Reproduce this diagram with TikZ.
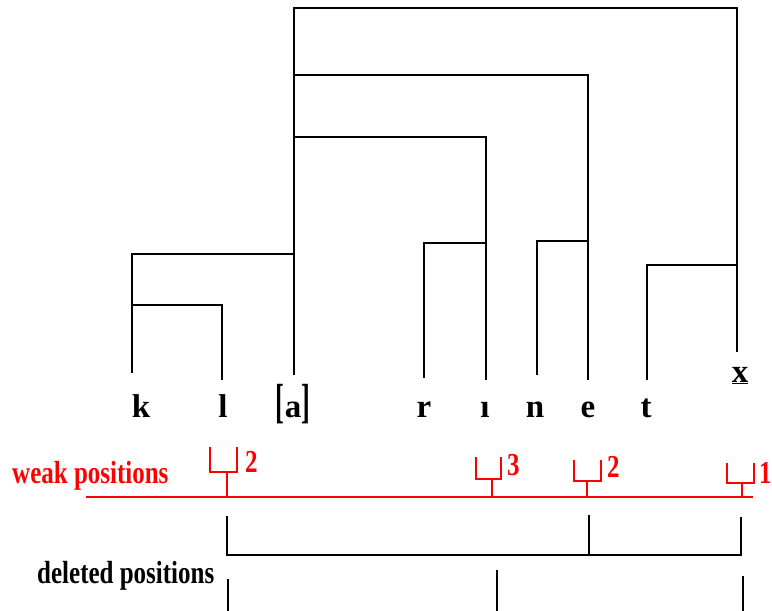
\documentclass[tikz,border=0pt]{standalone}
\usepackage{fontspec}
\setmainfont{Liberation Serif}
\usepackage{graphicx}

\newcommand{\stretchy}[1]{\scalebox{1}[1.28]{#1}}

\tikzstyle{seg} = [inner sep=0pt, anchor=base, font=\bfseries\fontsize{33}{33}\selectfont]
\tikzstyle{row-lbl} = [inner sep=0pt, anchor=base west, font=\bfseries\fontsize{25}{25}\selectfont]
\tikzstyle{num} = [inner sep=0pt, anchor=base west, text=red, font=\bfseries\fontsize{25}{25}\selectfont]
\tikzstyle{branch} = [line width=2.2pt, black]
\tikzstyle{weak} = [line width=2.4pt, red]
\tikzstyle{del} = [line width=2.2pt, black]

\begin{document}
\begin{tikzpicture}[x=1pt, y=-1pt]
  \useasboundingbox (0,0) rectangle (772,611);

  % segments
  \node (k) [seg] at (141,417) {k};
  \node (l) [seg] at (223,417) {l};
  \node (a) [seg] at (293,417) {\scalebox{0.8}[1.45]{[}a\scalebox{0.8}[1.45]{]}};
  \node (r) [seg] at (424,417) {r};
  \node (i) [seg] at (485,417) {ı};
  \node (n) [seg] at (535,417) {n};
  \node (e) [seg] at (588,417) {e};
  \node (t) [seg] at (646,417) {t};
  \node (x) [seg] at (740,382) {\underline{x}};

  % feet of the branches
  \coordinate (fk) at (132,373);
  \coordinate (fl) at (222,380);
  \coordinate (fa) at (294,375);
  \coordinate (fr) at (424,378);
  \coordinate (fi) at (486,380);
  \coordinate (fn) at (537,375);
  \coordinate (fe) at (588,380);
  \coordinate (ft) at (647,380);
  \coordinate (fx) at (737,352);

  % joints
  \coordinate (top) at (294,8);
  \coordinate (j-e) at (294,75);
  \coordinate (j-i) at (294,137);
  \coordinate (j-k) at (294,254);
  \coordinate (j-l) at (132,305);
  \coordinate (j-r) at (486,243);
  \coordinate (j-n) at (588,241);
  \coordinate (j-t) at (737,265);

  \draw [branch] (fa) -- (top) -| (fx);
  \draw [branch] (j-e) -| (fe);
  \draw [branch] (j-i) -| (fi);
  \draw [branch] (fk) |- (j-k);
  \draw [branch] (j-l) -| (fl);
  \draw [branch] (fr) |- (j-r);
  \draw [branch] (fn) |- (j-n);
  \draw [branch] (ft) |- (j-t);

  % weak positions
  \node (weak-lbl) [row-lbl, text=red] at (12,483) {\stretchy{weak positions}};
  \coordinate (w-start) at (86,497);
  \coordinate (w-end) at (753,497);
  \draw [weak] (w-start) -- (w-end);

  \coordinate (w1) at (227,497);
  \coordinate (w2) at (492,497);
  \coordinate (w3) at (587,497);
  \coordinate (w4) at (742,497);
  \draw [weak] (w1) -- (227,472) (210,447) |- (237,472) -- (237,447);
  \draw [weak] (w2) -- (492,479) (476,457) |- (501,479) -- (501,457);
  \draw [weak] (w3) -- (587,481) (574,460) |- (601,481) -- (601,460);
  \draw [weak] (w4) -- (742,483) (727,463) |- (754,483) -- (754,463);
  \node (n1) [num] at (245,472) {\stretchy{2}};
  \node (n2) [num] at (507,475) {\stretchy{3}};
  \node (n3) [num] at (607,477) {\stretchy{2}};
  \node (n4) [num] at (759,483) {\stretchy{1}};

  % deleted positions
  \node (del-lbl) [row-lbl] at (37,583) {\stretchy{deleted positions}};
  \coordinate (d1) at (227,516);
  \coordinate (d2) at (589,515);
  \coordinate (d3) at (741,517);
  \draw [del] (d1) |- (741,555) -- (d3);
  \draw [del] (d2) -- (589,555);
  \draw [del] (228,579) -- (228,611);
  \draw [del] (497,570) -- (497,611);
  \draw [del] (743,576) -- (743,611);
\end{tikzpicture}
\end{document}
